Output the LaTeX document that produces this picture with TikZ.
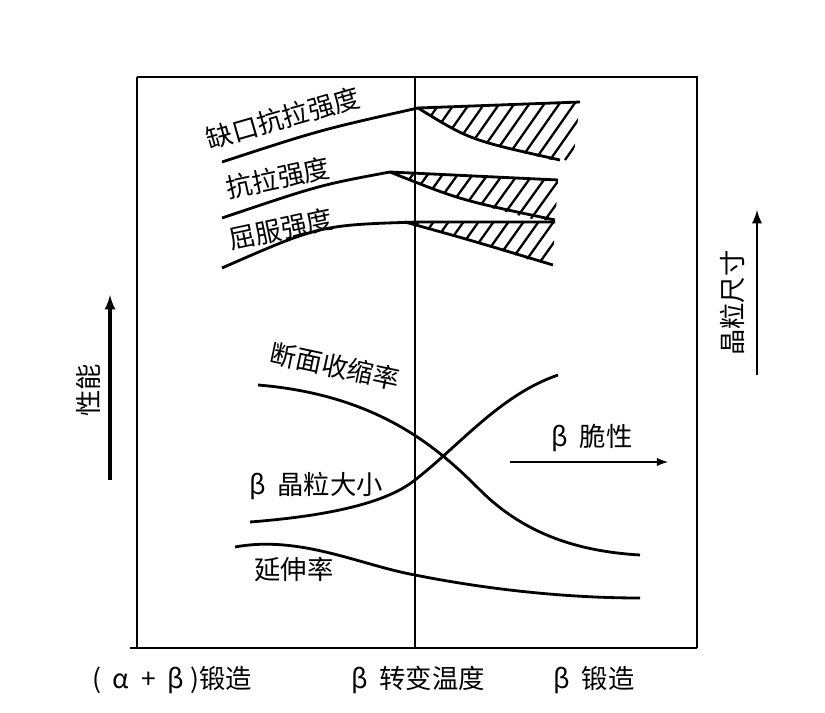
\documentclass[tikz,border=0pt]{standalone}
\usepackage{fontspec}
\newfontfamily\cjk{Noto Sans CJK SC}
\tikzset{
  curve/.style={line width=1.6pt},
  lbl/.style={font=\cjk\fontsize{15}{17}\selectfont, inner sep=1pt},
  hatch/.style={line width=1.3pt}
}
\begin{document}
\begin{tikzpicture}[x=0.02cm,y=-0.02cm]
    \useasboundingbox (0,0) rectangle (825,713);
    % frame
    \draw[line width=1.2pt]
    (137,77) -- (137,648)
    (130,648) -- (697,648)
    (137,77) -- (697,77) -- (697,648)
    (415,77) -- (415,648)
    ;
    % strength curves
    \draw[curve] (222,162) .. controls (320,130) .. (418,108) -- (580,102);
    \draw[curve] (418,108) .. controls (470,140) .. (560,160);
    \draw[curve] (222,218) .. controls (320,185) .. (390,172) -- (558,180);
    \draw[curve] (390,172) .. controls (460,200) .. (555,220);
    \draw[curve] (222,268) .. controls (320,225) .. (418,222) -- (555,222);
    \draw[curve] (405,222) .. controls (470,240) .. (553,265);
    % hatching
    \begin{scope}
        \clip (418,108) -- (580,102) -- (572,170) -- (560,162) .. controls (470,140) .. (418,108);
        \foreach \k in {-3,...,16} \draw[hatch] (430+15*\k,160) -- ++(42,-60);
    \end{scope}
    \begin{scope}
        \clip (390,172) -- (558,180) -- (555,225) .. controls (460,200) .. (390,172);
        \foreach \k in {-3,...,14} \draw[hatch] (410+15*\k,220) -- ++(36,-50);
    \end{scope}
    \begin{scope}
        \clip (405,222) -- (555,222) -- (553,268) .. controls (470,240) .. (405,222);
        \foreach \k in {-3,...,12} \draw[hatch] (420+15*\k,262) -- ++(32,-45);
    \end{scope}
    \node[lbl, rotate=16] (notch) at (283,118) {缺口抗拉强度};
    \node[lbl, rotate=12] (tensile) at (278,178) {抗拉强度};
    \node[lbl, rotate=12] (yield) at (281,229) {屈服强度};
    % property curves
    \draw[curve] (258,385) .. controls (380,395) and (440,450) .. (480,490) .. controls (530,540) and (590,552) .. (640,555);
    \draw[curve] (250,522) .. controls (340,515) and (390,500) .. (415,480) .. controls (460,445) and (500,395) .. (558,375);
    \draw[curve] (235,547) .. controls (300,535) and (360,565) .. (415,575) .. controls (480,588) and (560,598) .. (640,598);
    \node[lbl, rotate=-12] (reduction) at (335,366) {断面收缩率};
    \node[lbl] (grain) at (316,486) {β\ \ 晶粒大小};
    \node[lbl] (elong) at (294,569) {延伸率};
    % arrows
    \coordinate (pA) at (110,480);
    \coordinate (pB) at (110,295);
    \draw[line width=1.8pt, -latex] (pA) -- (pB);
    \node[lbl, rotate=90] (prop) at (88,390) {性能};
    \coordinate (gA) at (757,375);
    \coordinate (gB) at (757,210);
    \draw[line width=1.6pt, -latex] (gA) -- (gB);
    \node[lbl, rotate=90] (gsize) at (732,303) {晶粒尺寸};
    \coordinate (bA) at (510,462);
    \coordinate (bB) at (668,462);
    \draw[line width=1.2pt, -latex] (bA) -- (bB);
    \node[lbl] (brittle) at (592,438) {β\ \ 脆性};
    % bottom labels
    \node[lbl] (ab) at (172,680) {(\ \ α\ \ +\ \ β\ )锻造};
    \node[lbl] (trans) at (418,680) {β\ \ 转变温度};
    \node[lbl] (bforge) at (594,680) {β\ \ 锻造};
\end{tikzpicture}
\end{document}
